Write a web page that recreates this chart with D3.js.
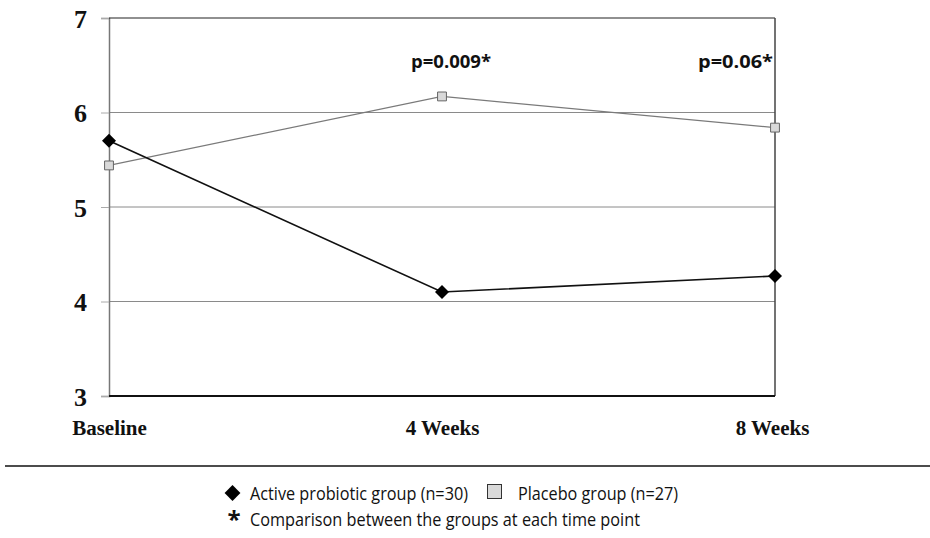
<!DOCTYPE html>
<html><head><meta charset="utf-8">
<script src="https://cdn.jsdelivr.net/npm/d3@7"></script>
<style>body{margin:0;background:#fff}svg{display:block}</style>
</head><body>
<svg id="c" width="930" height="538"></svg>
<script>
const categories = ["Baseline", "4 Weeks", "8 Weeks"];
const activeValues = [5.70, 4.10, 4.27];
const placeboValues = [5.44, 6.17, 5.84];
const yTicks = [3, 4, 5, 6, 7];
const pLabels = ["", "p=0.009*", "p=0.06*"];
const legendItems = ["Active probiotic group (n=30)", "Placebo group (n=27)"];
const footnote = "Comparison between the groups at each time point";

const svg = d3.select("#c");
const L = 109, R = 775, T = 18, B = 396;
const x = d3.scalePoint().domain(categories).range([L, R]);
const y = d3.scaleLinear().domain([3, 7]).range([B, T]);

// gridlines
svg.append("g").selectAll("line").data([4,5,6]).join("line")
  .attr("x1", L).attr("x2", R).attr("y1", d=>y(d)).attr("y2", d=>y(d))
  .attr("stroke", "#8a8a8a").attr("stroke-width", 1);

// y axis
const yAxis = d3.axisLeft(y).tickValues(yTicks).tickFormat(d3.format("d")).tickSize(8).tickPadding(14);
const ya = svg.append("g").attr("transform", `translate(${L},0)`).call(yAxis);
ya.select(".domain").attr("stroke", "#777").attr("stroke-width", 1.5);
ya.selectAll(".tick line").attr("stroke", "#aaa");
ya.selectAll("text").attr("font-family", "Liberation Serif").attr("font-weight", "bold")
  .attr("font-size", 26).attr("fill", "#111").attr("dy", "0.35em");

// frame top/right/bottom
svg.append("line").attr("x1", L).attr("x2", R).attr("y1", T).attr("y2", T).attr("stroke", "#222").attr("stroke-width", 1.2);
svg.append("line").attr("x1", R).attr("x2", R).attr("y1", T).attr("y2", B).attr("stroke", "#444").attr("stroke-width", 1.5);
svg.append("line").attr("x1", L).attr("x2", R).attr("y1", B).attr("y2", B).attr("stroke", "#111").attr("stroke-width", 1.8);

// x axis labels
const xAxis = d3.axisBottom(x).tickSize(0).tickPadding(24);
const xa = svg.append("g").attr("transform", `translate(0,${B})`).call(xAxis);
xa.select(".domain").remove();
xa.selectAll("text").attr("font-family", "Liberation Serif").attr("font-weight", "bold")
  .attr("font-size", 21).attr("fill", "#111")
  .attr("dx", (d,i)=> i===2 ? -3 : 0);

// lines
const line = d3.line().x((d,i)=>x(categories[i])).y(d=>y(d));
svg.append("path").attr("d", line(placeboValues)).attr("fill", "none").attr("stroke", "#7a7a7a").attr("stroke-width", 1.2);
svg.append("path").attr("d", line(activeValues)).attr("fill", "none").attr("stroke", "#111").attr("stroke-width", 1.6);

const diamond = d3.symbol().type(d3.symbolDiamond2).size(125);
const square = d3.symbol().type(d3.symbolSquare2).size(100);

svg.append("g").selectAll("path").data(placeboValues).join("path")
  .attr("transform", (d,i)=>`translate(${x(categories[i])},${y(d)})`)
  .attr("d", square).attr("fill", "#d9d9d9").attr("stroke", "#666").attr("stroke-width", 1);
svg.append("g").selectAll("path").data(activeValues).join("path")
  .attr("transform", (d,i)=>`translate(${x(categories[i])},${y(d)})`)
  .attr("d", diamond).attr("fill", "#000");

// p labels
svg.append("g").selectAll("text").data(pLabels).join("text")
  .attr("x", (d,i)=> i===2 ? x(categories[i]) - 2 : x(categories[i]) + 9)
  .attr("y", 68)
  .attr("text-anchor", (d,i)=> i===2 ? "end" : "middle")
  .attr("font-family", "Open Sans").attr("font-weight", "bold").attr("font-size", 18.5).attr("fill", "#111")
  .attr("textLength", (d,i)=> i===2 ? 75 : 80).attr("lengthAdjust", "spacingAndGlyphs")
  .text(d=>d);

// separator
svg.append("line").attr("x1", 5).attr("x2", 930).attr("y1", 466).attr("y2", 466).attr("stroke", "#111").attr("stroke-width", 1.5);

// legend
const lg = svg.append("g");
lg.append("path").attr("transform", "translate(232.5,493)").attr("d", d3.symbol().type(d3.symbolDiamond2).size(160)).attr("fill", "#000");
lg.append("text").attr("class", "lt").attr("x", 250).attr("y", 500).attr("textLength", 218).text(legendItems[0]);
lg.append("rect").attr("x", 487.5).attr("y", 484.5).attr("width", 14).attr("height", 14).attr("fill", "#d9d9d9").attr("stroke", "#333").attr("stroke-width", 1);
lg.append("text").attr("class", "lt").attr("x", 518).attr("y", 500).attr("textLength", 160).text(legendItems[1]);
lg.append("text").attr("x", 234).attr("y", 528).attr("text-anchor", "middle").attr("font-weight", "bold").attr("font-size", 24).text("*");
lg.append("text").attr("class", "lt").attr("x", 250).attr("y", 525.5).attr("textLength", 390).text(footnote);
lg.selectAll("text").attr("font-family", "Open Sans").attr("fill", "#111");
lg.selectAll("text.lt").attr("font-size", 17.5).attr("lengthAdjust", "spacingAndGlyphs");
</script>
</body></html>
